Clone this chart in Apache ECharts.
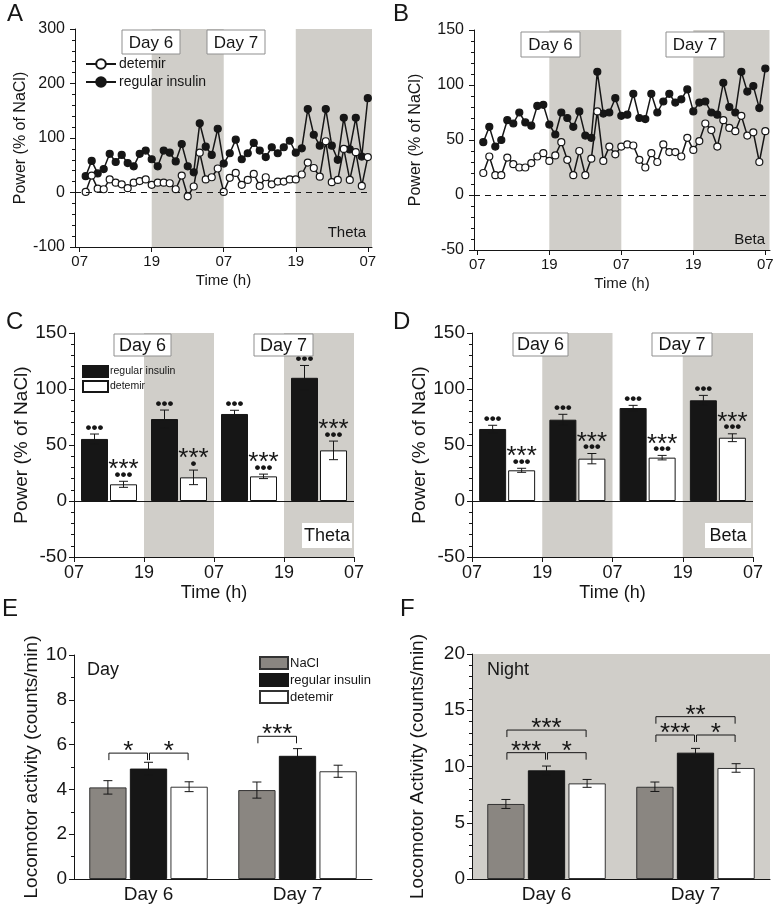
<!DOCTYPE html>
<html><head><meta charset="utf-8">
<script src="https://cdn.jsdelivr.net/npm/echarts@6/dist/echarts.min.js"></script>
<style>html,body{margin:0;padding:0;background:#fff}#c{width:777px;height:906px}</style>
</head><body><div id="c"></div>
<script>
// ---------------- data ----------------
const timeTicks = [0, 12, 24, 36, 48];
const timeTickLabels = ['07', '19', '07', '19', '07'];
const nightBands = [[12, 24], [36, 48.7]];
const nightBandsBar = [[12, 24], [36, 48]];
const hours = [1,2,3,4,5,6,7,8,9,10,11,12,13,14,15,16,17,18,19,20,21,22,23,24,25,26,27,28,29,30,31,32,33,34,35,36,37,38,39,40,41,42,43,44,45,46,47,48];

const thetaDetemir = [1,31,7,6,24,18,15,8,18,21,24,14,18,18,17,6,31,-7,11,73,24,28,44,1,27,36,14,23,34,12,28,15,20,20,24,24,33,55,45,29,94,19,23,80,23,74,12,65];
const thetaRegular = [30,58,35,43,71,56,69,54,48,71,77,61,48,77,73,57,89,48,37,127,84,69,117,53,72,97,61,72,91,77,65,83,72,83,95,73,81,153,106,86,153,86,60,137,79,137,66,173];
const betaDetemir = [20,35,18,18,34,28,25,25,29,35,38,31,36,48,32,18,40,18,33,76,31,44,37,44,46,45,32,25,38,30,46,39,39,35,52,41,49,65,59,44,68,61,58,72,54,57,30,58];
const betaRegular = [48,62,44,50,68,65,75,66,63,81,82,64,55,75,70,62,76,54,52,112,74,75,88,72,73,92,70,69,92,75,85,92,84,87,96,76,84,85,75,73,102,80,75,112,94,99,79,115];

const periods = ['07-19', '19-07', '07-19', '19-07'];
const thetaRegMean = [55.4, 73.2, 77.7, 110];
const thetaRegErr  = [4.4, 8, 3.3, 11];
const thetaDetMean = [14.9, 21.1, 22, 45.2];
const thetaDetErr  = [2.7, 6.5, 2, 8.3];
const thetaRegMarks = [['•••'], ['•••'], ['•••'], ['•••']];
const thetaDetMarks = [['•••', '***'], ['•', '***'], ['•••', '***'], ['•••', '***']];

const betaRegMean = [64.3, 72.6, 83, 89.9];
const betaRegErr  = [3.3, 4.8, 2.4, 4.4];
const betaDetMean = [27.4, 37.8, 38.7, 56.5];
const betaDetErr  = [1.8, 4.6, 2, 3.5];
const betaRegMarks = [['•••'], ['•••'], ['•••'], ['•••']];
const betaDetMarks = [['•••', '***'], ['•••', '***'], ['•••', '***'], ['•••', '***']];

const days = ['Day 6', 'Day 7'];
const dayNaCl = [4.09, 3.97];     const dayNaClErr = [0.3, 0.36];
const dayRegular = [4.93, 5.5];   const dayRegularErr = [0.28, 0.32];
const dayDetemir = [4.12, 4.81];  const dayDetemirErr = [0.22, 0.27];
// [day index, from group, to group, height, label]
const dayBrackets = [[0, 0, 1, 5.62, '*'], [0, 1, 2, 5.62, '*'], [1, 0, 1, 6.37, '***']];

const nightNaCl = [6.67, 8.2];     const nightNaClErr = [0.4, 0.42];
const nightRegular = [9.66, 11.23]; const nightRegularErr = [0.38, 0.38];
const nightDetemir = [8.5, 9.87];   const nightDetemirErr = [0.35, 0.38];
const nightBrackets = [[0, 0, 1, 11.23, '***'], [0, 1, 2, 11.23, '*'], [0, 0, 2, 13.24, '***'],
                       [1, 0, 1, 12.8, '***'], [1, 1, 2, 12.8, '*'], [1, 0, 2, 14.43, '**']];

// ---------------- styling ----------------
const FONT = '"Liberation Sans", Arial, Helvetica, sans-serif';
const INK = '#161616';
const BAND = '#d0cec9';
const GREY_BAR = '#8a8681';

const chart = echarts.init(document.getElementById('c'), null, {renderer: 'canvas'});

function axisBase(fs) {
  return {
    axisLine: {show: true, onZero: false, lineStyle: {color: INK, width: 1}},
    axisTick: {show: true, length: 5, inside: false, lineStyle: {color: INK, width: 1}},
    axisLabel: {color: INK, fontSize: fs, fontFamily: FONT},
    splitLine: {show: false},
    nameTextStyle: {color: INK, fontSize: fs, fontFamily: FONT}
  };
}
function timeAxis(gi, min, max, fs, gap) {
  const b = axisBase(fs);
  return Object.assign(b, {
    gridIndex: gi, type: 'value', min: min, max: max,
    name: 'Time (h)', nameLocation: 'middle', nameGap: gap,
    axisTick: Object.assign(b.axisTick, {customValues: timeTicks}),
    axisLabel: Object.assign(b.axisLabel, {customValues: timeTicks, margin: 7,
      formatter: v => timeTickLabels[timeTicks.indexOf(v)]})
  });
}
function valAxis(gi, min, max, interval, minorSplit, name, fs, gap, margin) {
  const b = axisBase(fs);
  return Object.assign(b, {
    gridIndex: gi, type: 'value', min: min, max: max, interval: interval,
    minorTick: {show: true, splitNumber: minorSplit, length: 3, lineStyle: {color: INK}},
    name: name, nameLocation: 'middle', nameGap: gap,
    axisLabel: Object.assign(b.axisLabel, {margin: margin})
  });
}

function bandSeries(xi, yi, bands) {
  return {
    type: 'custom', xAxisIndex: xi, yAxisIndex: yi, silent: true, z: 0,
    data: bands, clip: false,
    renderItem(params, api) {
      const cs = params.coordSys;
      const x0 = api.coord([api.value(0), 0])[0];
      const x1 = api.coord([api.value(1), 0])[0];
      return {type: 'rect', shape: {x: x0, y: cs.y, width: x1 - x0, height: cs.height},
        style: {fill: BAND}};
    }
  };
}

function lineSeries(name, xi, yi, vals, open, zeroLine) {
  const s = {
    name: name, type: 'line', xAxisIndex: xi, yAxisIndex: yi, z: open ? 4 : 3,
    data: hours.map((h, i) => [h, vals[i]]),
    symbol: 'circle', symbolSize: 7, showSymbol: true,
    lineStyle: {color: INK, width: 1.5},
    itemStyle: {color: open ? '#fff' : INK, borderColor: INK, borderWidth: 1.2}
  };
  if (zeroLine) {
    s.markLine = {silent: true, symbol: 'none', label: {show: false},
      lineStyle: {color: INK, type: [6, 5], width: 1}, data: [{yAxis: 0}]};
  }
  return s;
}

function barSeries(name, xi, yi, vals, fill, border, bw, gap) {
  return {
    name: name, type: 'bar', xAxisIndex: xi, yAxisIndex: yi, z: 2,
    data: vals, barWidth: bw, barGap: gap,
    itemStyle: {color: fill, borderColor: border, borderWidth: 1}
  };
}

function errSeries(xi, yi, vals, errs, k, n, bw, gapPx, marks, lift) {
  return {
    type: 'custom', xAxisIndex: xi, yAxisIndex: yi, silent: true, z: 6,
    data: vals.map((v, i) => [i, v, errs[i]]),
    renderItem(params, api) {
      const i = api.value(0), v = api.value(1), e = api.value(2);
      const off = (k - (n - 1) / 2) * (bw + gapPx);
      const x = api.coord([i, v])[0] + off;
      const yT = api.coord([i, v + e])[1];
      const yB = api.coord([i, v - e])[1];
      const cw = 4.5;
      const st = {stroke: INK, lineWidth: 1};
      const ch = [
        {type: 'line', shape: {x1: x, y1: yB, x2: x, y2: yT}, style: st},
        {type: 'line', shape: {x1: x - cw, y1: yT, x2: x + cw, y2: yT}, style: st},
        {type: 'line', shape: {x1: x - cw, y1: yB, x2: x + cw, y2: yB}, style: st}
      ];
      if (marks) {
        const m = marks[params.dataIndex];
        m.forEach((t, j) => {
          const star = t.indexOf('*') >= 0;
          const yc = yT - lift[j];
          ch.push({type: 'text', style: {
            text: t, x: x, y: star ? yc + 7 : yc + 1,
            textAlign: 'center', textVerticalAlign: 'middle',
            font: star ? '26px ' + FONT : 'bold 17px ' + FONT, fill: INK}});
        });
      }
      return {type: 'group', children: ch};
    }
  };
}

function bracketSeries(xi, yi, brackets, n, bw, gapPx) {
  return {
    type: 'custom', xAxisIndex: xi, yAxisIndex: yi, silent: true, z: 7,
    data: brackets.map(b => [b[0], b[3], b[1], b[2]]),
    renderItem(params, api) {
      const cat = api.value(0), h = api.value(1), a = api.value(2), b = api.value(3);
      const c = api.coord([cat, h]);
      const xa = c[0] + (a - (n - 1) / 2) * (bw + gapPx) + 1;
      const xb = c[0] + (b - (n - 1) / 2) * (bw + gapPx) - 1;
      const y = c[1];
      return {type: 'group', children: [
        {type: 'polyline', shape: {points: [[xa, y + 7], [xa, y], [xb, y], [xb, y + 7]]},
          style: {stroke: INK, lineWidth: 1, fill: null}},
        {type: 'text', style: {text: brackets[params.dataIndex][4], x: (xa + xb) / 2, y: y - 1,
          textAlign: 'center', textVerticalAlign: 'middle', font: '26px ' + FONT, fill: INK}}
      ]};
    }
  };
}

function boxText(x, y, w, h, text, fs, stroke) {
  return {type: 'group', z: 100, children: [
    {type: 'rect', z: 100, shape: {x: x, y: y, width: w, height: h},
      style: {fill: '#fff', stroke: stroke, lineWidth: stroke ? 1 : 0}},
    {type: 'text', z: 101, style: {text: text, x: x + w / 2, y: y + h / 2 + 1, textAlign: 'center',
      textVerticalAlign: 'middle', font: fs + 'px ' + FONT, fill: INK}}
  ]};
}
function plainText(x, y, text, fs, align) {
  return {type: 'text', z: 100, style: {text: text, x: x, y: y, textAlign: align || 'left',
    textVerticalAlign: 'middle', font: fs + 'px ' + FONT, fill: INK}};
}

const BW_CD = 27, GAP_CD = 2;
const BW_EF = 37.3, GAP_EF = 3.3;
const legendFmt = name => name.split('|')[1];

const option = {
  animation: false,
  backgroundColor: '#fff',
  textStyle: {fontFamily: FONT, color: INK},
  grid: [
    {left: 75, top: 29, width: 297, height: 218},
    {left: 474, top: 30, width: 296, height: 220},
    {left: 74, top: 333, width: 280, height: 224},
    {left: 472, top: 333, width: 281, height: 224},
    {left: 74, top: 655, width: 298, height: 224},
    {left: 472, top: 654, width: 298, height: 225, show: true, backgroundColor: BAND, borderWidth: 0}
  ],
  xAxis: [
    timeAxis(0, -0.78, 48.7, 15, 26),
    timeAxis(1, -0.55, 48.78, 15, 26),
    timeAxis(2, 0, 48, 18, 27),
    {gridIndex: 2, type: 'category', data: periods, show: false},
    timeAxis(3, 0, 48, 18, 27),
    {gridIndex: 3, type: 'category', data: periods, show: false},
    Object.assign(axisBase(19), {gridIndex: 4, type: 'category', data: days,
      axisTick: {show: false}, axisLabel: {color: INK, fontSize: 19, fontFamily: FONT, margin: 6}}),
    Object.assign(axisBase(19), {gridIndex: 5, type: 'category', data: days,
      axisTick: {show: false}, axisLabel: {color: INK, fontSize: 19, fontFamily: FONT, margin: 6}})
  ],
  yAxis: [
    valAxis(0, -100, 300, 100, 5, 'Power (% of NaCl)', 16, 46, 10),
    valAxis(1, -50, 150, 50, 5, 'Power (% of NaCl)', 16, 50, 10),
    valAxis(2, -50, 150, 50, 5, 'Power (% of NaCl)', 19, 38, 7),
    valAxis(3, -50, 150, 50, 5, 'Power (% of NaCl)', 19, 42, 7),
    valAxis(4, 0, 10, 2, 2, 'Locomotor activity (counts/min)', 19, 33, 7),
    valAxis(5, 0, 20, 5, 5, 'Locomotor Activity (counts/min)', 19, 45, 7)
  ],
  legend: [
    {data: ['A|detemir', 'A|regular insulin'], formatter: legendFmt, orient: 'vertical', padding: 0,
      left: 85, top: 57, itemWidth: 30, itemHeight: 12, itemGap: 4, selectedMode: false,
      textStyle: {fontSize: 14, color: INK, fontFamily: FONT, padding: [0, 0, 0, -2]}},
    {data: ['C|regular insulin', 'C|detemir'], formatter: legendFmt, orient: 'vertical', padding: 0,
      left: 82, top: 365, itemWidth: 25, itemHeight: 11, itemGap: 2, icon: 'rect', selectedMode: false,
      textStyle: {fontSize: 10.5, color: INK, fontFamily: FONT, padding: [0, 0, 0, -3]}},
    {data: ['E|NaCl', 'E|regular insulin', 'E|detemir'], formatter: legendFmt, orient: 'vertical', padding: 0,
      left: 259, top: 656, itemWidth: 28, itemHeight: 12, itemGap: 3, icon: 'rect', selectedMode: false,
      textStyle: {fontSize: 13, color: INK, fontFamily: FONT, padding: [0, 0, 0, -3]}}
  ],
  graphic: [
    plainText(7, 14, 'A', 24), plainText(393, 14, 'B', 24),
    plainText(6, 322, 'C', 24), plainText(393, 322, 'D', 24),
    plainText(2, 609, 'E', 24), plainText(400, 609, 'F', 24),
    boxText(122, 30, 58, 24, 'Day 6', 17, '#8f8f8f'),
    boxText(207, 30, 58, 24, 'Day 7', 17, '#8f8f8f'),
    boxText(521, 32, 59, 25, 'Day 6', 17, '#8f8f8f'),
    boxText(666, 32, 58, 25, 'Day 7', 17, '#8f8f8f'),
    boxText(114, 334, 57, 22, 'Day 6', 18, '#8f8f8f'),
    boxText(254, 334, 59, 22, 'Day 7', 18, '#8f8f8f'),
    boxText(513, 333, 55, 23, 'Day 6', 18, '#8f8f8f'),
    boxText(652, 333, 60, 23, 'Day 7', 18, '#8f8f8f'),
    plainText(366, 233, 'Theta', 15, 'right'),
    plainText(765, 240, 'Beta', 15, 'right'),
    boxText(302, 523, 50, 25, 'Theta', 18, null),
    boxText(705, 523, 46, 25, 'Beta', 18, null),
    plainText(87, 670, 'Day', 18), plainText(487, 670, 'Night', 18)
  ],
  series: [
    // A
    bandSeries(0, 0, nightBands),
    lineSeries('A|detemir', 0, 0, thetaDetemir, true, true),
    lineSeries('A|regular insulin', 0, 0, thetaRegular, false, false),
    // B
    bandSeries(1, 1, nightBands),
    lineSeries('B|detemir', 1, 1, betaDetemir, true, true),
    lineSeries('B|regular insulin', 1, 1, betaRegular, false, false),
    // C
    bandSeries(2, 2, nightBandsBar),
    Object.assign(barSeries('C|regular insulin', 3, 2, thetaRegMean, INK, INK, BW_CD, (GAP_CD / BW_CD * 100) + '%'),
      {markLine: {silent: true, symbol: 'none', label: {show: false}, lineStyle: {color: INK, type: 'solid', width: 1}, data: [{yAxis: 0}]}}),
    barSeries('C|detemir', 3, 2, thetaDetMean, '#fff', INK, BW_CD, (GAP_CD / BW_CD * 100) + '%'),
    errSeries(3, 2, thetaRegMean, thetaRegErr, 0, 2, BW_CD, GAP_CD, thetaRegMarks, [7, 18]),
    errSeries(3, 2, thetaDetMean, thetaDetErr, 1, 2, BW_CD, GAP_CD, thetaDetMarks, [7, 18]),
    // D
    bandSeries(4, 3, nightBandsBar),
    Object.assign(barSeries('D|regular insulin', 5, 3, betaRegMean, INK, INK, BW_CD, (GAP_CD / BW_CD * 100) + '%'),
      {markLine: {silent: true, symbol: 'none', label: {show: false}, lineStyle: {color: INK, type: 'solid', width: 1}, data: [{yAxis: 0}]}}),
    barSeries('D|detemir', 5, 3, betaDetMean, '#fff', INK, BW_CD, (GAP_CD / BW_CD * 100) + '%'),
    errSeries(5, 3, betaRegMean, betaRegErr, 0, 2, BW_CD, GAP_CD, betaRegMarks, [7, 18]),
    errSeries(5, 3, betaDetMean, betaDetErr, 1, 2, BW_CD, GAP_CD, betaDetMarks, [7, 18]),
    // E
    barSeries('E|NaCl', 6, 4, dayNaCl, GREY_BAR, '#333', BW_EF, (GAP_EF / BW_EF * 100) + '%'),
    barSeries('E|regular insulin', 6, 4, dayRegular, INK, INK, BW_EF, (GAP_EF / BW_EF * 100) + '%'),
    barSeries('E|detemir', 6, 4, dayDetemir, '#fff', '#333', BW_EF, (GAP_EF / BW_EF * 100) + '%'),
    errSeries(6, 4, dayNaCl, dayNaClErr, 0, 3, BW_EF, GAP_EF, null),
    errSeries(6, 4, dayRegular, dayRegularErr, 1, 3, BW_EF, GAP_EF, null),
    errSeries(6, 4, dayDetemir, dayDetemirErr, 2, 3, BW_EF, GAP_EF, null),
    bracketSeries(6, 4, dayBrackets, 3, BW_EF, GAP_EF),
    // F
    barSeries('F|NaCl', 7, 5, nightNaCl, GREY_BAR, '#333', BW_EF, (GAP_EF / BW_EF * 100) + '%'),
    barSeries('F|regular insulin', 7, 5, nightRegular, INK, INK, BW_EF, (GAP_EF / BW_EF * 100) + '%'),
    barSeries('F|detemir', 7, 5, nightDetemir, '#fff', '#333', BW_EF, (GAP_EF / BW_EF * 100) + '%'),
    errSeries(7, 5, nightNaCl, nightNaClErr, 0, 3, BW_EF, GAP_EF, null),
    errSeries(7, 5, nightRegular, nightRegularErr, 1, 3, BW_EF, GAP_EF, null),
    errSeries(7, 5, nightDetemir, nightDetemirErr, 2, 3, BW_EF, GAP_EF, null),
    bracketSeries(7, 5, nightBrackets, 3, BW_EF, GAP_EF)
  ]
};
chart.setOption(option);
</script>
</body></html>
